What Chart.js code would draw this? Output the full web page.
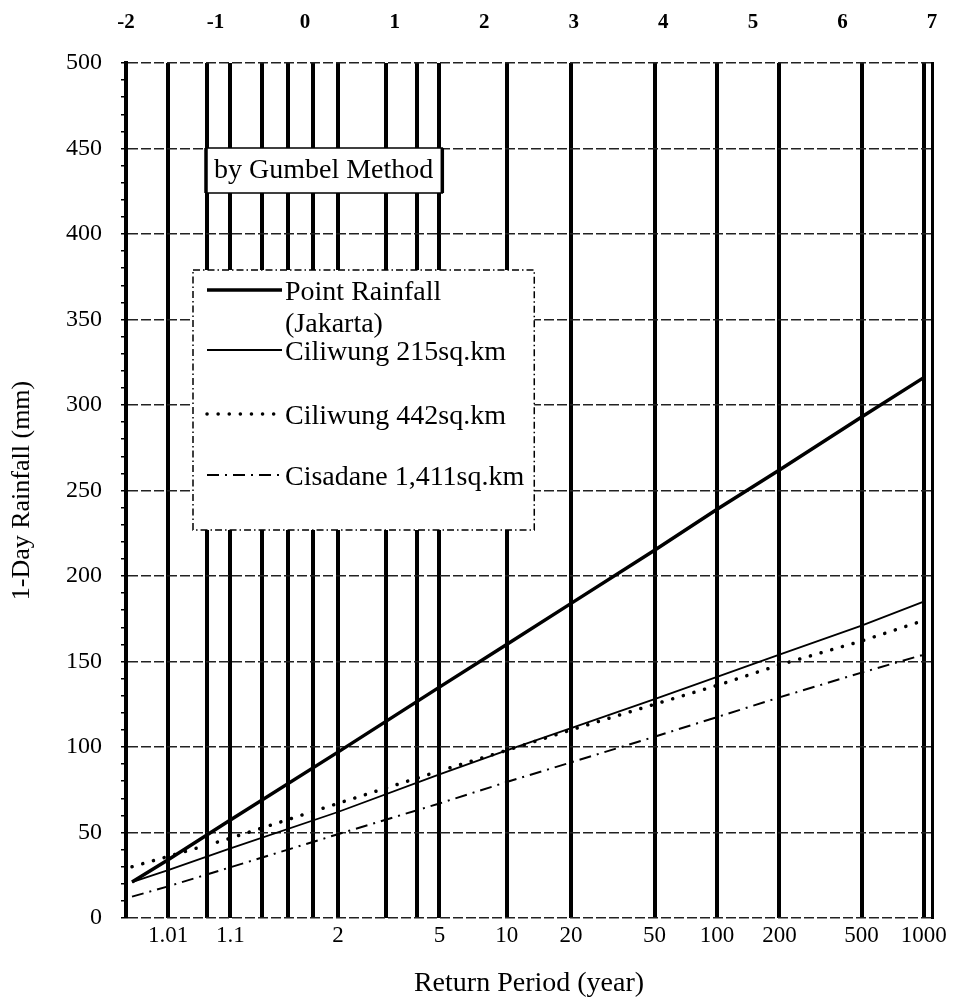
<!DOCTYPE html>
<html>
<head>
<meta charset="utf-8">
<script src="https://cdn.jsdelivr.net/npm/chart.js@4.4.0/dist/chart.umd.min.js"></script>
<style>
  html, body { margin: 0; padding: 0; background: #fff; }
  canvas { display: block; }
</style>
</head>
<body>
<canvas id="gumbelChart" width="958" height="1003"></canvas>
<script>
const returnPeriods = [1.001, 1.01, 1.1, 2, 5, 10, 20, 50, 100, 200, 500, 1000];
const pointJakarta = [21, 34, 56, 97, 135, 160, 184, 215, 239, 262, 293, 316];
const ciliwung215  = [21, 28, 40, 62, 84, 98, 111, 128, 141, 154, 171, 185];
const ciliwung442  = [30, 36, 46, 67, 86, 98, 110, 125, 136, 148, 162, 174];
const cisadane1411 = [12.5, 18.5, 29, 49, 67, 79.5, 91, 106, 117.5, 129, 143.5, 154];
const seriesNames = [['Point Rainfall', '(Jakarta)'], ['Ciliwung 215sq.km'], ['Ciliwung 442sq.km'], ['Cisadane 1,411sq.km']];
const chartNote = 'by Gumbel Method';

// vertical rulings of the Gumbel paper (return period) and their labels
const gridPeriods = [1.01, 1.0526, 1.1111, 1.25, 1.4286, 1.6667, 2, 3, 4, 5, 10, 20, 50, 100, 200, 500, 1000];
const gridLabels  = ['1.01', '', '1.1', '', '', '', '2', '', '', '5', '10', '20', '50', '100', '200', '500', '1000'];
// reduced variate ticks along the top
const reducedTicks = [-2, -1, 0, 1, 2, 3, 4, 5, 6, 7];

const gumbel = T => -Math.log(-Math.log(1 - 1 / T));
const serif = '"Liberation Serif", "DejaVu Serif", serif';

const lineStyles = [
  { borderWidth: 3.5 },
  { borderWidth: 1.8 },
  { borderWidth: 3.5, borderDash: [0.1, 11], borderCapStyle: 'round' },
  { borderWidth: 2, borderDash: [12, 6, 2, 6] }
];

const datasets = [pointJakarta, ciliwung215, ciliwung442, cisadane1411].map((vals, i) => Object.assign({
  label: seriesNames[i].join(' '),
  data: returnPeriods.map((T, j) => ({ x: gumbel(T), y: vals[j] })),
  borderColor: '#000',
  backgroundColor: '#000',
  showLine: true,
  pointRadius: 0,
  tension: 0
}, lineStyles[i]));

// legend and method note, drawn as boxes over the paper
const gumbelLegend = {
  id: 'gumbelLegend',
  afterDraw(chart) {
    const ctx = chart.ctx;
    ctx.save();
    ctx.font = '28px ' + serif;
    ctx.textBaseline = 'middle';

    const tw = ctx.measureText(chartNote).width;
    const nx = 206, ny = 148, nw = tw + 17, nh = 45;
    ctx.fillStyle = '#fff';
    ctx.fillRect(nx, ny, nw, nh);
    ctx.strokeStyle = '#000';
    ctx.lineWidth = 1.5;
    ctx.strokeRect(nx, ny, nw, nh);
    ctx.lineWidth = 3.5;
    ctx.beginPath();
    ctx.moveTo(nx, ny); ctx.lineTo(nx, ny + nh);
    ctx.moveTo(nx + nw, ny); ctx.lineTo(nx + nw, ny + nh);
    ctx.stroke();
    ctx.fillStyle = '#000';
    ctx.fillText(chartNote, 214, 171);

    const rows = [293, 353, 417, 478];
    let maxW = 0;
    seriesNames.forEach(n => n.forEach(t => { maxW = Math.max(maxW, ctx.measureText(t).width); }));
    const bx = 193, by = 270, bw = 285 - bx + maxW + 10, bh = 260;
    ctx.fillStyle = '#fff';
    ctx.fillRect(bx, by, bw, bh);
    ctx.lineWidth = 1.5;
    ctx.setLineDash([7, 3, 1.5, 3]);
    ctx.strokeRect(bx, by, bw, bh);

    chart.data.datasets.forEach((ds, i) => {
      const y = rows[i];
      ctx.save();
      ctx.strokeStyle = '#000';
      ctx.lineWidth = ds.borderWidth;
      ctx.lineCap = ds.borderCapStyle || 'butt';
      ctx.setLineDash(ds.borderDash || []);
      ctx.beginPath();
      ctx.moveTo(207, y - 3);
      ctx.lineTo(282, y - 3);
      ctx.stroke();
      ctx.restore();
      ctx.fillStyle = '#000';
      seriesNames[i].forEach((t, k) => ctx.fillText(t, 285, y + k * 32));
    });
    ctx.restore();
  }
};

new Chart(document.getElementById('gumbelChart'), {
  type: 'scatter',
  data: { datasets },
  plugins: [gumbelLegend],
  options: {
    responsive: false,
    animation: false,
    devicePixelRatio: 1,
    layout: { padding: { left: 0, right: 26, top: 0, bottom: 0 } },
    plugins: { legend: { display: false }, tooltip: { enabled: false } },
    scales: {
      x: {
        type: 'linear', position: 'bottom', min: -2, max: 7,
        afterBuildTicks: s => { s.ticks = gridPeriods.map(T => ({ value: gumbel(T) })); },
        afterFit: s => { s.height = 85; s.paddingLeft = 0; s.paddingRight = 0; },
        grid: { color: '#000', lineWidth: 4, drawTicks: false },
        border: { display: false },
        ticks: {
          autoSkip: false, maxRotation: 0, padding: 4, color: '#000',
          font: { family: serif, size: 23 },
          callback: (v, i) => gridLabels[i]
        },
        title: {
          display: true, text: 'Return Period (year)', color: '#000',
          font: { family: serif, size: 28 }, padding: { top: 0, bottom: 3 }
        }
      },
      x2: {
        type: 'linear', position: 'top', min: -2, max: 7,
        afterBuildTicks: s => { s.ticks = reducedTicks.map(v => ({ value: v })); },
        afterFit: s => { s.height = 63; s.paddingLeft = 0; s.paddingRight = 0; },
        grid: { display: false, drawTicks: false },
        border: { display: false },
        ticks: {
          autoSkip: false, maxRotation: 0, padding: 28, color: '#000',
          font: { family: serif, size: 21, weight: 'bold' },
          callback: v => String(v)
        }
      },
      y: {
        min: 0, max: 500,
        ticks: {
          stepSize: 10, autoSkip: false, padding: 19, color: '#000',
          font: { family: serif, size: 24 },
          callback: v => (v % 50 === 0 ? v : '')
        },
        grid: {
          color: c => (c.tick && c.tick.value % 50 === 0 ? '#222' : 'rgba(0,0,0,0)'),
          lineWidth: 1.5, tickColor: '#000', tickLength: 5, tickWidth: 1.5
        },
        border: { display: true, color: '#000', width: 4, dash: [10, 3] },
        afterFit: s => { s.width = 126; s.paddingTop = 0; s.paddingBottom = 0; },
        title: {
          display: true, text: '1-Day Rainfall (mm)', color: '#000',
          font: { family: serif, size: 26 }, padding: { top: 7, bottom: 0 }
        }
      },
      y2: {
        position: 'right', min: 0, max: 500,
        grid: { display: false, drawTicks: false },
        ticks: { display: false },
        border: { display: true, color: '#000', width: 3 },
        afterFit: s => { s.width = 0; }
      }
    }
  }
});
</script>
</body>
</html>
